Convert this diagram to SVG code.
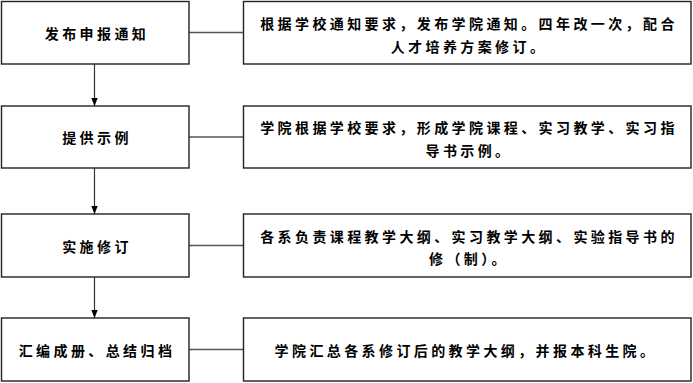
<svg xmlns="http://www.w3.org/2000/svg" width="693" height="383" viewBox="0 0 693 383">
<defs>
<style>
.box{fill:#fff;stroke:#222;stroke-width:1.4}
.t{font-family:"Noto Sans CJK SC","Noto Sans CJK JP",sans-serif;font-size:14px;font-weight:bold;fill:#000;text-anchor:middle;dominant-baseline:central;letter-spacing:3.4px}
.c{stroke:#555;stroke-width:1.6;fill:none}
.a{stroke:#333;stroke-width:1.2;fill:none;marker-end:url(#arr)}
</style>
<marker id="arr" viewBox="0 0 8 8" refX="8" refY="4" markerWidth="8" markerHeight="8" markerUnits="userSpaceOnUse" orient="auto">
<path d="M0,0.8 L8,4 L0,7.2 Z" fill="#000"/>
</marker>
</defs>
<rect width="693" height="383" fill="#fff"/>
<g id="connectors">
<line class="c" x1="189" y1="32.5" x2="243" y2="32.5"/>
<line class="c" x1="189" y1="137" x2="243" y2="137"/>
<line class="c" x1="189" y1="245.5" x2="243" y2="245.5"/>
<line class="c" x1="189" y1="349.5" x2="243" y2="349.5"/>
<line class="a" x1="94.5" y1="64" x2="94.5" y2="106"/>
<line class="a" x1="94.5" y1="168" x2="94.5" y2="214"/>
<line class="a" x1="94.5" y1="277" x2="94.5" y2="318"/>
</g>
<g id="n1"><rect class="box" x="1.5" y="1.5" width="187.5" height="62.5"/><text class="t" x="97" y="33">发布申报通知</text></g>
<g id="n2"><rect class="box" x="1.5" y="106" width="187.5" height="62"/><text class="t" x="97" y="137">提供示例</text></g>
<g id="n3"><rect class="box" x="1.5" y="214" width="187.5" height="63"/><text class="t" x="97" y="245.5">实施修订</text></g>
<g id="n4"><rect class="box" x="1.5" y="318" width="187.5" height="63"/><text class="t" x="97" y="349.5">汇编成册、总结归档</text></g>
<g id="d1"><rect class="box" x="243.5" y="1.5" width="447.5" height="62.5"/><text class="t" x="469" y="22.5">根据学校通知要求，发布学院通知。四年改一次，配合</text><text class="t" x="469" y="46">人才培养方案修订。</text></g>
<g id="d2"><rect class="box" x="243.5" y="106" width="447.5" height="62"/><text class="t" x="469" y="126.5">学院根据学校要求，形成学院课程、实习教学、实习指</text><text class="t" x="469" y="149.5">导书示例。</text></g>
<g id="d3"><rect class="box" x="243.5" y="214" width="447.5" height="63"/><text class="t" x="469" y="235.5">各系负责课程教学大纲、实习教学大纲、实验指导书的</text><text class="t" x="469" y="258">修（制）。</text></g>
<g id="d4"><rect class="box" x="243.5" y="318" width="447.5" height="63"/><text class="t" x="466" y="349.5">学院汇总各系修订后的教学大纲，并报本科生院。</text></g>
</svg>
